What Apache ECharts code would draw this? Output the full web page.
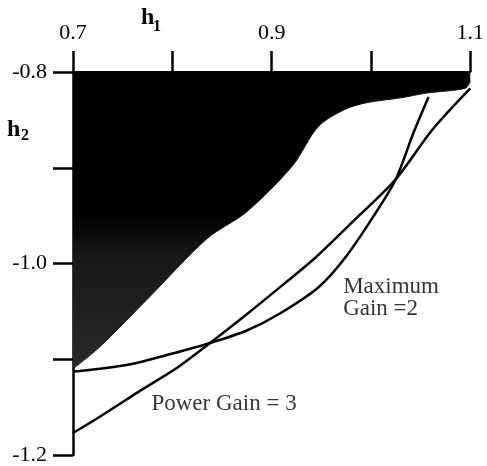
<!DOCTYPE html>
<html><head><meta charset="utf-8">
<script src="https://cdn.jsdelivr.net/npm/echarts@6/dist/echarts.min.js"></script>
<style>html,body{margin:0;padding:0;background:#fff}#c{width:487px;height:466px}</style>
</head><body><div id="c"></div>
<script>
// Boundary of the dark (unstable) region [h1, h2]
const regionBoundary = [
  [0.700,-1.110],[0.727,-1.087],[0.776,-1.036],[0.835,-0.974],[0.875,-0.946],
  [0.921,-0.898],[0.947,-0.857],[0.974,-0.839],[0.996,-0.832],[1.030,-0.827],
  [1.056,-0.822],[1.095,-0.817],[1.100,-0.810]
];
// "Power Gain = 3" curve
const powerGain3 = [
  [0.700,-1.177],[0.727,-1.160],[0.769,-1.132],[0.806,-1.108],[0.838,-1.083],
  [0.875,-1.053],[0.914,-1.020],[0.944,-0.994],[0.983,-0.955],[1.025,-0.912],
  [1.062,-0.860],[1.100,-0.817]
];
// "Maximum Gain = 2" curve
const maxGain2 = [
  [0.700,-1.113],[0.727,-1.110],[0.759,-1.105],[0.793,-1.096],[0.838,-1.083],
  [0.875,-1.070],[0.907,-1.053],[0.947,-1.025],[0.974,-0.994],[1.003,-0.950],
  [1.025,-0.912],[1.043,-0.863],[1.058,-0.826]
];
const xTicks = [0.7, 0.8, 0.9, 1.0, 1.1];
const xLabelled = ['0.7', '0.9', '1.1'];
const yTicks = [-0.8, -0.9, -1.0, -1.1, -1.2];
const yLabelled = ['-0.8', '-1.0', '-1.2'];
const annotations = [
  {text: 'Maximum\nGain =2', at: [0.972, -1.036]},
  {text: 'Power Gain = 3', at: [0.779, -1.147]}
];

const serif = '"Liberation Serif", "Times New Roman", serif';
const boldFont = (px) => 'bold ' + px + 'px "Liberation Serif", serif';
const chart = echarts.init(document.getElementById('c'), null, {renderer: 'canvas'});
chart.setOption({
  animation: false,
  backgroundColor: '#fff',
  grid: {left: 73, right: 9, top: 72, bottom: 7},
  xAxis: {
    type: 'value', position: 'top', min: 0.7, max: 1.1, interval: 0.1,
    axisLine: {show: true, lineStyle: {color: '#000', width: 2}},
    axisTick: {show: true, inside: false, length: 21, lineStyle: {color: '#000', width: 2.5}},
    splitLine: {show: false},
    axisLabel: {
      margin: 28, color: '#000', fontFamily: serif, fontSize: 22,
      formatter: v => { const s = v.toFixed(1); return xLabelled.includes(s) ? s : ''; }
    }
  },
  yAxis: {
    type: 'value', min: -1.2, max: -0.8, interval: 0.1,
    axisLine: {show: true, lineStyle: {color: '#000', width: 2.5}},
    axisTick: {show: true, inside: false, length: 20, lineStyle: {color: '#000', width: 2.5}},
    splitLine: {show: false},
    axisLabel: {
      margin: 26, color: '#000', fontFamily: serif, fontSize: 22,
      formatter: v => { const s = v.toFixed(1); return yLabelled.includes(s) ? s : ''; }
    }
  },
  graphic: [
    {type: 'text', left: 141, top: 6, style: {text: 'h', font: boldFont(24), fill: '#000'}},
    {type: 'text', left: 153, top: 19, style: {text: '1', font: boldFont(16), fill: '#000'}},
    {type: 'text', left: 7, top: 118, style: {text: 'h', font: boldFont(24), fill: '#000'}},
    {type: 'text', left: 21, top: 128, style: {text: '2', font: boldFont(16), fill: '#000'}}
  ],
  series: [
    {
      type: 'line', data: regionBoundary, smooth: 0.3, symbol: 'none', z: 1,
      lineStyle: {width: 1, color: '#111'},
      areaStyle: {
        origin: 'end', opacity: 1,
        color: new echarts.graphic.LinearGradient(0, 0, 0, 1, [
          {offset: 0, color: '#000'},
          {offset: 0.48, color: '#000'},
          {offset: 0.62, color: '#181818'},
          {offset: 1, color: '#2a2a2a'}
        ])
      }
    },
    {
      type: 'line', name: 'Power Gain = 3', data: powerGain3, smooth: 0.3, symbol: 'none', z: 3,
      lineStyle: {width: 2.5, color: '#000'}
    },
    {
      type: 'line', name: 'Maximum Gain = 2', data: maxGain2, smooth: 0.3, symbol: 'none', z: 3,
      lineStyle: {width: 2.5, color: '#000'}
    },
    {
      type: 'scatter', symbolSize: 0, z: 4, silent: true,
      data: annotations.map(a => ({value: a.at, name: a.text})),
      label: {
        show: true, position: 'right', distance: 0, formatter: p => p.name,
        color: '#000', fontFamily: serif, fontSize: 23, lineHeight: 22, align: 'left'
      }
    }
  ]
});
</script></body></html>
